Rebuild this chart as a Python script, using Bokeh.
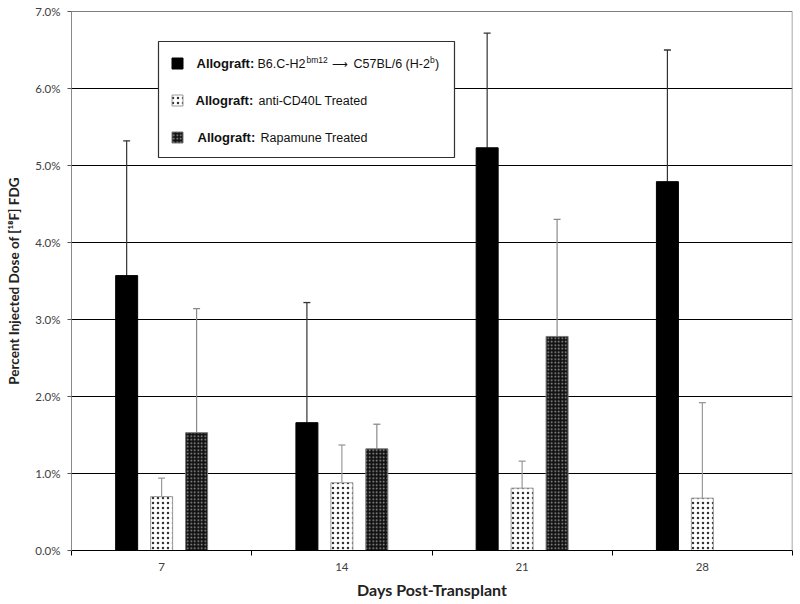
import numpy as np
from bokeh.plotting import figure
from bokeh.models import Range1d, FixedTicker, Span, ColumnDataSource
from bokeh.core.properties import value
from bokeh.embed import file_html
from bokeh.resources import INLINE

# ---------------- data (percent injected dose) ----------------
days = ["7", "14", "21", "28"]
allograft = [3.57, 1.66, 5.23, 4.79]
allograft_err_top = [5.32, 3.22, 6.72, 6.50]
cd40l = [0.70, 0.88, 0.81, 0.68]
cd40l_err_top = [0.94, 1.37, 1.16, 1.92]
rapamune = [1.53, 1.32, 2.78, None]
rapamune_err_top = [3.14, 1.64, 4.30, None]
y_ticks = [0, 1, 2, 3, 4, 5, 6, 7]
y_tick_labels = ["0.0%", "1.0%", "2.0%", "3.0%", "4.0%", "5.0%", "6.0%", "7.0%"]

FONT = "Lato"
LFONT = "Liberation Sans"

p = figure(width=800, height=604, output_backend="svg", toolbar_location=None,
           x_range=Range1d(0, len(days)), y_range=Range1d(0, 7),
           min_border_left=71, min_border_right=8, min_border_top=11, min_border_bottom=54)
p.outline_line_color = None
p.background_fill_color = "white"

# grid
p.xgrid.grid_line_color = None
p.ygrid.grid_line_color = "black"
p.ygrid.grid_line_width = 1

# y axis
p.yaxis.ticker = FixedTicker(ticks=y_ticks)
p.yaxis.major_label_overrides = {t: l for t, l in zip(y_ticks, y_tick_labels)}
p.yaxis.axis_line_color = "#8a8a8a"
p.yaxis.major_tick_line_color = "#555555"
p.yaxis.major_tick_out = 4
p.yaxis.major_tick_in = 0
p.yaxis.minor_tick_line_color = None
p.yaxis.major_label_text_font = FONT
p.yaxis.major_label_text_font_size = "11.5px"
p.yaxis.major_label_text_color = "#404040"
p.yaxis.major_label_standoff = 7
p.yaxis.axis_label = "Percent Injected Dose of [\u00b9\u2078F] FDG"
p.yaxis.axis_label_text_font = FONT
p.yaxis.axis_label_text_font_style = "bold"
p.yaxis.axis_label_text_font_size = "13.5px"
p.yaxis.axis_label_text_color = "#222222"
p.yaxis.axis_label_standoff = 10

# x axis
centers = np.arange(len(days)) + 0.5
p.xaxis.ticker = FixedTicker(ticks=list(centers), minor_ticks=list(range(len(days) + 1)))
p.xaxis.major_label_overrides = {float(c): d for c, d in zip(centers, days)}
p.xaxis.major_tick_line_color = None
p.xaxis.minor_tick_line_color = "black"
p.xaxis.minor_tick_out = 5
p.xaxis.minor_tick_in = 0
p.xaxis.axis_line_color = "black"
p.xaxis.major_label_text_font = FONT
p.xaxis.major_label_text_font_size = "11.5px"
p.xaxis.major_label_text_color = "#404040"
p.xaxis.major_label_standoff = 6
p.xaxis.axis_label = "Days Post-Transplant"
p.xaxis.axis_label_text_font = FONT
p.xaxis.axis_label_text_font_style = "bold"
p.xaxis.axis_label_text_font_size = "16px"
p.xaxis.axis_label_text_color = "#222222"
p.xaxis.axis_label_standoff = 6

# borders (top black gridline, right grey edge)
p.add_layout(Span(location=7, dimension="width", line_color="black", line_width=1))
p.add_layout(Span(location=len(days), dimension="height", line_color="#8a8a8a", line_width=1.5))

# ---------------- bars ----------------
offset = 0.194
bw = 0.122

series = [
    (allograft, allograft_err_top, -offset,
     dict(fill_color="black", line_color="black"), "#333333"),
    (cd40l, cd40l_err_top, 0.0,
     dict(fill_color="white", line_color="#9a9a9a", hatch_pattern="dot", hatch_color="#333333",
          hatch_scale=5, hatch_weight=1.0), "#9a9a9a"),
    (rapamune, rapamune_err_top, offset,
     dict(fill_color="#121212", line_color="#777777", hatch_pattern="dot", hatch_color="#a0a0a0",
          hatch_scale=3.5, hatch_weight=1.2), "#8a8a8a"),
]

for vals, errs, off, style, ecol in series:
    xs, tops, etops = [], [], []
    for c, v, e in zip(centers, vals, errs):
        if v is None:
            continue
        xs.append(c + off)
        tops.append(v)
        etops.append(e)
    src = ColumnDataSource(dict(x=xs, top=tops, err=etops))
    p.segment(x0="x", y0="top", x1="x", y1="err", source=src, line_color=ecol, line_width=1.2)
    p.scatter(x="x", y="err", source=src, marker="dash", size=7, line_color=ecol, line_width=1.3)
    p.vbar(x="x", top="top", bottom=0, width=bw, source=src, line_width=1, **style)

# ---------------- legend (manual, for mixed bold / superscript text) ----------------
px_per_x = (792 - 71) / len(days)
px_per_y = 77.0


def dx(px):
    return (px - 71) / px_per_x


def dy(py):
    return (550 - py) / px_per_y


p.quad(left=[dx(158)], right=[dx(454)], top=[dy(41)], bottom=[dy(157)],
       fill_color="white", line_color="#303030", line_width=1.2)

rows_y = [63, 100, 137]
swatch_styles = [s[3] for s in series]
for ry, st in zip(rows_y, swatch_styles):
    p.rect(x=[dx(177)], y=[dy(ry)], width=11, height=11, width_units="screen",
           height_units="screen", line_width=1, **st)


def txt(x, y, s, size="12.5px", bold=False, yoff=0):
    p.text(x=[dx(x)], y=[dy(y)], text=[s], text_font=value(LFONT), text_font_size=size,
           text_font_style="bold" if bold else "normal", text_baseline="middle",
           text_align="left", text_color="#111111", y_offset=yoff)


txt(196, rows_y[0], "Allograft:", size="13px", bold=True)
txt(257, rows_y[0], "B6.C-H2")
txt(306, rows_y[0], "bm12", size="8.5px", yoff=-4)
txt(331, rows_y[0], "\u27f6", size="11px")
txt(353, rows_y[0], "C57BL/6 (H-2")
txt(429.5, rows_y[0], "b", size="8.5px", yoff=-4)
txt(434.5, rows_y[0], ")")

txt(195, rows_y[1], "Allograft:", size="13px", bold=True)
txt(258, rows_y[1], "anti-CD40L Treated")

txt(197, rows_y[2], "Allograft:", size="13px", bold=True)
txt(260, rows_y[2], "Rapamune Treated")

open("out.html", "w").write(file_html(p, INLINE))
